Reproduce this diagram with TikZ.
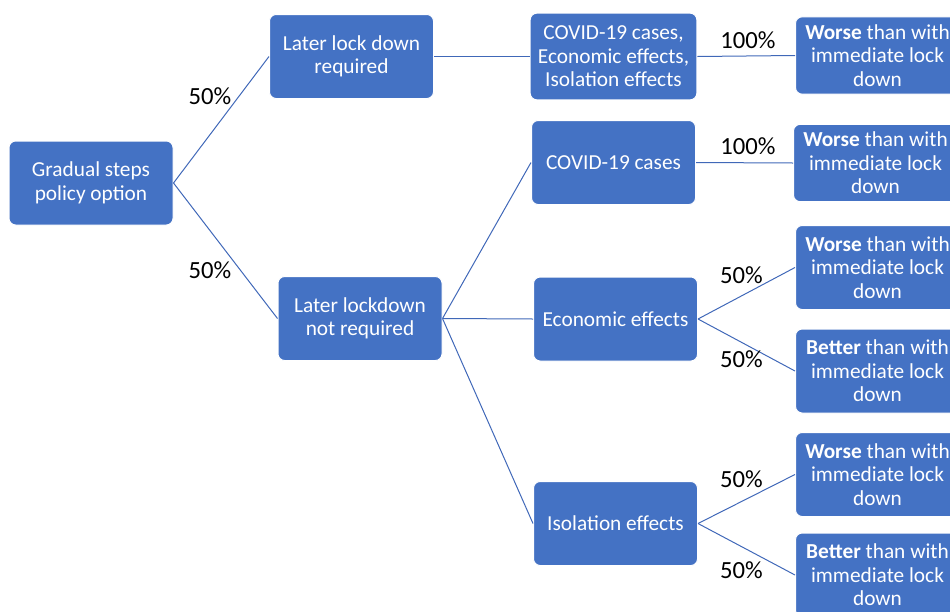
\documentclass[tikz,border=0pt]{standalone}
\usepackage{fontspec}
\setmainfont{Carlito}
\usepackage{tikz}
\definecolor{boxblue}{HTML}{4472C4}
\definecolor{lineblue}{HTML}{4068B8}

\begin{document}
\begin{tikzpicture}[x=0.75pt,y=-0.75pt,
	box/.style={fill=boxblue, draw=white, line width=0.75pt, rounded corners=5pt,
		text=white, align=center, inner sep=0pt,
		font=\fontsize{16}{17.6}\selectfont,
		minimum width=123pt, minimum height=63pt},
	link/.style={draw=lineblue, line width=0.75pt},
	pct/.style={font=\fontsize{18.5}{20}\selectfont, inner sep=0pt}]
	\useasboundingbox (0,0) rectangle (950,611);

	% Decision and first branches
	\node[box] (gradual) at (91,183) {Gradual steps\\policy option};
	\node[box] (lreq) at (351.5,56.5) {Later lock down\\required};
	\node[box] (lnot) at (360,318.5) {Later lockdown\\not required};

	% Effects
	\node[box, minimum width=125pt, minimum height=65pt] (all) at (613.5,56.5)
		{COVID-19 cases,\\Economic effects,\\Isolation effects};
	\node[box] (covid) at (613.5,162.5) {COVID-19 cases};
	\node[box] (econ) at (615.5,319) {Economic effects};
	\node[box] (iso) at (615.5,523.5) {Isolation effects};

	% Outcomes
	\node[box, minimum height=58pt] (out1) at (877.5,55.5) {\textbf{Worse} than with\\immediate lock\\down};
	\node[box, minimum height=58pt] (out2) at (875.5,163) {\textbf{Worse} than with\\immediate lock\\down};
	\node[box] (out3) at (877.5,267.5) {\textbf{Worse} than with\\immediate lock\\down};
	\node[box] (out4) at (877.5,371) {\textbf{Better} than with\\immediate lock\\down};
	\node[box] (out5) at (877.5,474.5) {\textbf{Worse} than with\\immediate lock\\down};
	\node[box] (out6) at (877.5,575) {\textbf{Better} than with\\immediate lock\\down};

	% Connectors
	\draw[link] (gradual.east) -- (lreq.west);
	\draw[link] (gradual.east) -- (lnot.west);
	\draw[link] (lreq.east) -- (all.west);
	\draw[link] (all.east) -- (out1.west);
	\draw[link] (lnot.east) -- (covid.west);
	\draw[link] (lnot.east) -- (econ.west);
	\draw[link] (lnot.east) -- (iso.west);
	\draw[link] (covid.east) -- (out2.west);
	\draw[link] (econ.east) -- (out3.west);
	\draw[link] (econ.east) -- (out4.west);
	\draw[link] (iso.east) -- (out5.west);
	\draw[link] (iso.east) -- (out6.west);

	% Probabilities
	\node[pct] (p1) at (210,96) {50\%};
	\node[pct] (p2) at (210,270) {50\%};
	\node[pct] (p3) at (748,40) {100\%};
	\node[pct] (p4) at (748,146) {100\%};
	\node[pct] (p5) at (741.5,275) {50\%};
	\node[pct] (p6) at (741.5,359) {50\%};
	\node[pct] (p7) at (741.5,479) {50\%};
	\node[pct] (p8) at (741.5,570) {50\%};
\end{tikzpicture}
\end{document}
